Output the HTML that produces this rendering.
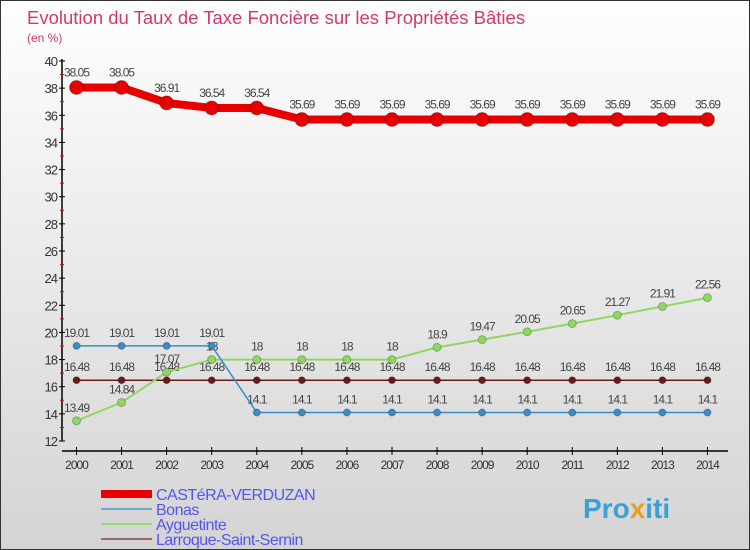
<!DOCTYPE html>
<html><head><meta charset="utf-8"><style>
body{margin:0}
#c{width:750px;height:550px;position:relative;background:linear-gradient(#fefefe,#d4d4d4);border:1px solid #333;box-sizing:border-box;font-family:"Liberation Sans",sans-serif;overflow:hidden}
</style></head><body>
<div id="c">
<svg id="s" width="750" height="550" style="position:absolute;left:0;top:0">
<text x="26" y="23" font-size="18.5" fill="#d2386e">Evolution du Taux de Taxe Foncière sur les Propriétés Bâties</text>
<text x="26" y="41" font-size="12" fill="#d2386e">(en %)</text>
<text x="582" y="517" font-size="28" font-weight="bold" fill="#3aa0d8">Pro<tspan fill="#e6a020">x</tspan>iti</text>
</svg>
</div>
<script>
const years=[2000,2001,2002,2003,2004,2005,2006,2007,2008,2009,2010,2011,2012,2013,2014];
const casteraVals=[38.05,38.05,36.91,36.54,36.54,35.69,35.69,35.69,35.69,35.69,35.69,35.69,35.69,35.69,35.69];
const bonasVals=[19.01,19.01,19.01,19.01,14.1,14.1,14.1,14.1,14.1,14.1,14.1,14.1,14.1,14.1,14.1];
const ayguetinteVals=[13.49,14.84,17.07,18,18,18,18,18,18.9,19.47,20.05,20.65,21.27,21.91,22.56];
const larroqueVals=[16.48,16.48,16.48,16.48,16.48,16.48,16.48,16.48,16.48,16.48,16.48,16.48,16.48,16.48,16.48];
const yTicks=[12,14,16,18,20,22,24,26,28,30,32,34,36,38,40];
const s=document.getElementById('s');const NS='http://www.w3.org/2000/svg';
const X=i=>75.5+i*45.07, Y=v=>60+(40-v)*380/28;
function mk(t,a,p){const e=document.createElementNS(NS,t);for(const k in a)e.setAttribute(k,a[k]);(p||s).appendChild(e);return e;}
let ax=mk('line',{x1:61,y1:58,x2:61,y2:440,stroke:'#000','stroke-width':1.5});


let xa=mk('line',{x1:61,y1:450,x2:727,y2:450,stroke:'#000','stroke-width':1.5});


yTicks.forEach(v=>{mk('line',{x1:58,x2:64,y1:Y(v),y2:Y(v),stroke:'#000'});
 if(v<40)mk('line',{x1:59,x2:63,y1:Y(v+1),y2:Y(v+1),stroke:'#e00'});
 const t=mk('text',{x:56,y:Y(v)+5,'text-anchor':'end','font-size':13,fill:'#333','letter-spacing':'-1'});t.textContent=v;
 
 });
years.forEach((y,i)=>{mk('line',{x1:X(i),x2:X(i),y1:446,y2:454,stroke:'#000'});
 const t=mk('text',{x:X(i),y:468,'text-anchor':'middle','font-size':12,fill:'#333','letter-spacing':'-1'});t.textContent=y;
 
 });
function series(vals,col,w,r,name,dy){
 const g=mk('g',{});
 
 
 mk('polyline',{points:vals.map((v,i)=>X(i)+','+Y(v)).join(' '),fill:'none',stroke:col,'stroke-width':w},g);
 vals.forEach((v,i)=>{const c=mk('circle',{cx:X(i),cy:Y(v),r:r,fill:col,stroke:'rgba(0,0,0,0.25)'},g);
  
  
  const t=mk('text',{x:X(i),y:Y(v)-dy,'text-anchor':'middle','font-size':12,fill:'#444','letter-spacing':'-1'},g);t.textContent=v;});
}
series(larroqueVals,'#6b1a1a',1.5,3.5,'larroque-series',9);
series(ayguetinteVals,'#8fd860',2,4,'ayguetinte-series',9);
series(bonasVals,'#3a8cc8',1.5,3.5,'bonas-series',9);
series(casteraVals,'#e80000',8,7,'castera-series',11);
const leg=[['CASTéRA-VERDUZAN','#e80000',8],['Bonas','#6ea8cc',2],['Ayguetinte','#98dc70',2],['Larroque-Saint-Sernin','#9a6a6a',2]];
leg.forEach((l,i)=>{const yy=493+i*15;
 const g=mk('g',{});
 
 
 mk('line',{x1:100,x2:151,y1:yy,y2:yy,stroke:l[1],'stroke-width':l[2]},g);
 const t=mk('text',{x:155,y:yy+6,'font-size':16,fill:'#5555ee','letter-spacing':'-0.5'},g);t.textContent=l[0];});
</script>
</body></html>
